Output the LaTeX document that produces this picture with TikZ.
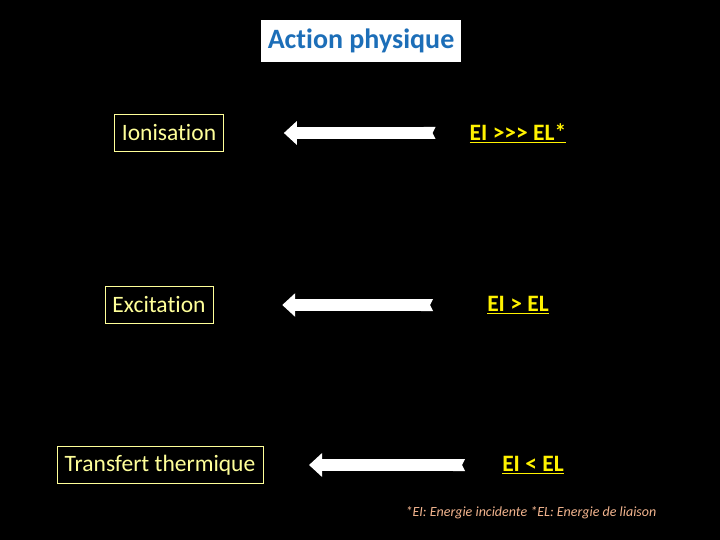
\documentclass[tikz,border=0pt]{standalone}
\usepackage{fontspec}
\setmainfont{Carlito}[Ligatures=NoCommon]
\usepackage{xcolor}
\usepackage{tikz}
\usetikzlibrary{arrows.meta}
\definecolor{titleblue}{HTML}{1C6EB8}
\definecolor{paleyel}{HTML}{FFFF99}
\definecolor{peach}{HTML}{F2B48E}
\tikzset{
  titlebox/.style={fill=white,text=titleblue,font=\fontsize{28}{32}\selectfont\bfseries,inner xsep=7pt,minimum height=42pt},
  box/.style={draw=paleyel,text=paleyel,font=\fontsize{23.5}{28}\selectfont,inner xsep=7.5pt,minimum height=37pt},
  cond/.style={text=yellow,font=\fontsize{23.5}{28}\selectfont\bfseries,inner sep=0pt},
  barr/.style={white,line width=12pt,{Triangle Cap[reversed,length=3pt]}-{Triangle[width=23pt,length=13pt]}},
}
\begin{document}
\begin{tikzpicture}[x=1pt,y=-1pt]
\fill[black] (0,0) rectangle (720,540);
\useasboundingbox (0,0) rectangle (720,540);
\node[titlebox] (title) at (361,41) {Action physique};
% processus
\node[box] (ion) at (169,133) {Ionisation};
\node[box] (exc) at (159,305) {Excitation};
\node[box] (trf) at (160,465) {Transfert thermique};
% conditions
\node[cond] (c1) at (518,133) {\underline{EI {>}{>}{>} EL*}};
\node[cond] (c2) at (518,305) {\underline{EI > EL}};
\node[cond] (c3) at (533,465) {\underline{EI < EL}};
\draw[barr,shorten <=34pt,shorten >=60pt] (c1.west) -- (ion.east);
\draw[barr,shorten <=54pt,shorten >=69pt] (c2.west) -- (exc.east);
\draw[barr,shorten <=37pt,shorten >=46pt] (c3.west) -- (trf.east);
\node[text=peach,font=\fontsize{14}{16}\selectfont\itshape] (note) at (531,513) {*EI: Energie incidente *EL: Energie de liaison};
\end{tikzpicture}
\end{document}
